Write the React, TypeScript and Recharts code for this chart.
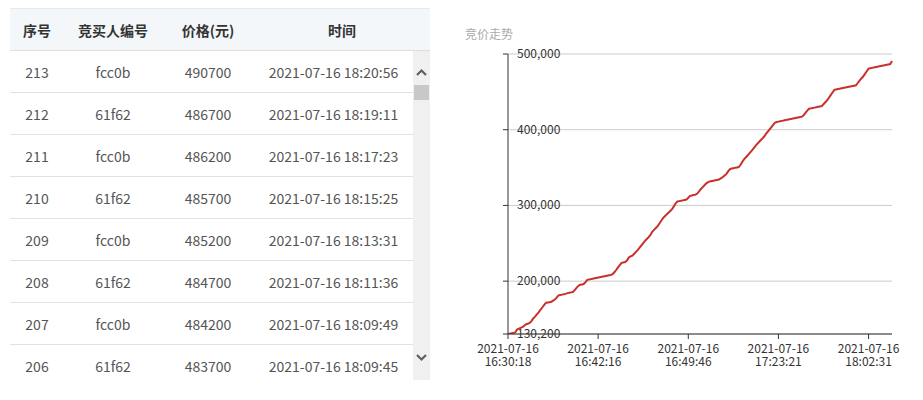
import React from "react";
import {
  LineChart,
  Line,
  XAxis,
  YAxis,
  CartesianGrid,
} from "recharts";

// table (latest bids, newest first)
const seqNos = [213, 212, 211, 210, 209, 208, 207, 206];
const bidders = ["fcc0b", "61f62", "fcc0b", "61f62", "fcc0b", "61f62", "fcc0b", "61f62"];
const bidPrices = [490700, 486700, 486200, 485700, 485200, 484700, 484200, 483700];
const bidTimes = [
  "2021-07-16 18:20:56",
  "2021-07-16 18:19:11",
  "2021-07-16 18:17:23",
  "2021-07-16 18:15:25",
  "2021-07-16 18:13:31",
  "2021-07-16 18:11:36",
  "2021-07-16 18:09:49",
  "2021-07-16 18:09:45",
];
const headers = ["序号", "竞买人编号", "价格(元)", "时间"];

// price trend, one value per bid (index 0..213)
const prices = [
  130200, 130700, 131200, 131700, 132200, 136200, 137200, 138200, 139200, 141200,
  143200, 143700, 144700, 147200, 150700, 153200, 156200, 158700, 162200, 165200,
  168200, 171200, 171700, 172200, 172700, 174200, 175700, 178200, 181200, 181700,
  182200, 182700, 183200, 184200, 184700, 185200, 185700, 188200, 191200, 193700,
  195200, 195700, 196200, 198700, 201700, 202200, 202700, 203200, 203700, 204200,
  204700, 205200, 205700, 206200, 206700, 207200, 207700, 208200, 209200, 211700,
  214700, 218200, 221200, 224200, 224700, 225200, 227200, 231200, 232700, 233700,
  236200, 238700, 241200, 244200, 247200, 250200, 253200, 255700, 258200, 261200,
  265200, 267700, 270200, 272700, 276200, 279700, 283200, 285700, 288200, 290200,
  292700, 295200, 298700, 302700, 305200, 305700, 306200, 306700, 307200, 307700,
  310200, 312700, 313200, 313700, 314200, 315700, 318700, 321700, 324200, 326700,
  329200, 330700, 331700, 332200, 332700, 333200, 333700, 334200, 335700, 337200,
  339200, 341200, 344700, 347700, 348700, 349200, 349700, 350200, 350700, 353700,
  357700, 361200, 363700, 366200, 369200, 371700, 374700, 377700, 380700, 383200,
  385700, 388200, 390700, 394200, 397200, 400200, 403200, 406200, 409200, 410200,
  410700, 411200, 411700, 412200, 412700, 413200, 413700, 414200, 414700, 415200,
  415700, 416200, 416700, 417200, 419200, 422200, 425200, 427700, 428200, 428700,
  429200, 429700, 430200, 430700, 431200, 433700, 436200, 438700, 442200, 445700,
  449200, 452700, 453200, 453700, 454200, 454700, 455200, 455700, 456200, 456700,
  457200, 457700, 458200, 458700, 461700, 464700, 467700, 470200, 473700, 477200,
  480700, 481200, 481700, 482200, 482700, 483200, 483700, 484200, 484700, 485200,
  485700, 486200, 486700, 490700,
];

const xTickIndex = [0, 50, 100, 150, 200];
const xTickDates = ["2021-07-16", "2021-07-16", "2021-07-16", "2021-07-16", "2021-07-16"];
const xTickTimes = ["16:30:18", "16:42:16", "16:49:46", "17:23:21", "18:02:31"];
const yTicks = [130200, 200000, 300000, 400000, 500000];

const chartData = prices.map((price, i) => ({ idx: i, price }));

const font = '"Noto Sans CJK SC", "Noto Sans", sans-serif';
const colWidths = [54, 98, 92, 159];

const XTick = (props: any) => {
  const { x, y, payload } = props;
  const k = xTickIndex.indexOf(payload.value);
  return (
    <g>
      <text x={x} y={y + 12} textAnchor="middle" fill="#333" fontSize={12} fontFamily={font}>
        {xTickDates[k]}
      </text>
      <text x={x} y={y + 25} textAnchor="middle" fill="#333" fontSize={12} fontFamily={font}>
        {xTickTimes[k]}
      </text>
    </g>
  );
};

const YTick = (props: any) => {
  const { x, y, payload } = props;
  return (
    <text x={x + 16} y={y} dy={4} textAnchor="start" fill="#333" fontSize={12} fontFamily={font}>
      {payload.value.toLocaleString("en-US")}
    </text>
  );
};

const Chevron = ({ up }: { up: boolean }) => (
  <svg width={17} height={10} style={{ display: "block" }}>
    <polyline
      points={up ? "4,8 8.5,3.5 13,8" : "4,2 8.5,6.5 13,2"}
      fill="none"
      stroke="#606060"
      strokeWidth={2.2}
    />
  </svg>
);

const BidTable = () => (
  <div
    style={{
      position: "absolute",
      left: 10,
      top: 8,
      width: 420,
      height: 372,
      overflow: "hidden",
      fontFamily: font,
      fontSize: 14,
    }}
  >
    <div
      style={{
        display: "flex",
        height: 41,
        background: "#f4f7fa",
        borderTop: "1px solid #e6e9ed",
        borderBottom: "1px solid #dcdfe3",
        color: "#333",
        fontWeight: "bold",
        alignItems: "center",
      }}
    >
      {headers.map((h, i) => (
        <div
          key={h}
          style={{ width: i === 3 ? colWidths[3] + 17 : colWidths[i], textAlign: "center" }}
        >
          {h}
        </div>
      ))}
    </div>
    <div style={{ position: "relative", display: "flex" }}>
      <div style={{ width: 403 }}>
        {seqNos.map((s, r) => (
          <div
            key={s}
            style={{
              display: "flex",
              height: 41,
              borderBottom: "1px solid #e2e2e2",
              alignItems: "center",
              color: "#555",
            }}
          >
            {[String(s), bidders[r], String(bidPrices[r]), bidTimes[r]].map((c, i) => (
              <div key={i} style={{ width: colWidths[i], textAlign: "center" }}>
                {c}
              </div>
            ))}
          </div>
        ))}
      </div>
      <div style={{ width: 17, height: 330, background: "#f0f0f0", position: "relative" }}>
        <div style={{ position: "absolute", top: 16, left: 0 }}>
          <Chevron up={true} />
        </div>
        <div
          style={{ position: "absolute", top: 34, left: 1, width: 15, height: 15, background: "#c8c8c8" }}
        />
        <div style={{ position: "absolute", top: 302, left: 0 }}>
          <Chevron up={false} />
        </div>
      </div>
    </div>
  </div>
);

const App = () => (
  <div style={{ position: "absolute", left: 0, top: 0, width: 923, height: 400, background: "#fff" }}>
    <BidTable />
    <div
      style={{
        position: "absolute",
        left: 465,
        top: 25,
        fontFamily: font,
        fontSize: 12,
        color: "#aaa",
      }}
    >
      竞价走势
    </div>
    <div style={{ position: "absolute", left: 440, top: 0 }}>
      <LineChart
        width={483}
        height={400}
        data={chartData}
        margin={{ top: 54, right: 31, left: 48, bottom: 0 }}
      >
        <CartesianGrid horizontal={true} vertical={false} stroke="#ccc" />
        <XAxis
          dataKey="idx"
          type="number"
          domain={[0, 213]}
          ticks={xTickIndex}
          interval={0}
          height={66}
          tickSize={5}
          tickMargin={2}
          stroke="#333"
          tick={<XTick />}
        />
        <YAxis
          type="number"
          domain={[130200, 500000]}
          ticks={yTicks}
          interval={0}
          width={20}
          tickSize={5}
          tickMargin={2}
          stroke="#333"
          tick={<YTick />}
          allowDataOverflow={true}
        />
        <Line
          type="linear"
          dataKey="price"
          stroke="#c9302c"
          strokeWidth={2}
          dot={false}
          isAnimationActive={false}
        />
      </LineChart>
    </div>
  </div>
);

export default App;
